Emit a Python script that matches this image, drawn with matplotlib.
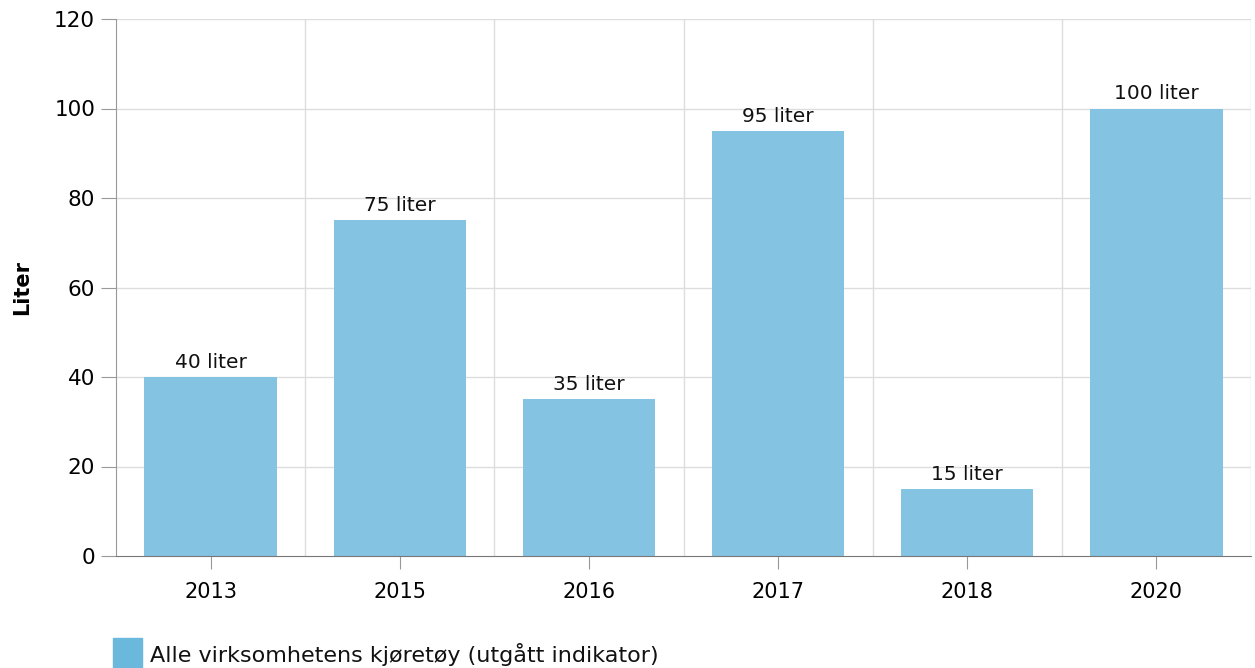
import matplotlib.pyplot as plt
from matplotlib.patches import Rectangle

years = ['2013', '2015', '2016', '2017', '2018', '2020']
values = [40, 75, 35, 95, 15, 100]
labels = ['40 liter', '75 liter', '35 liter', '95 liter', '15 liter', '100 liter']
series_name = 'Alle virksomhetens kjøretøy (utgått indikator)'

plt.rcParams['font.family'] = ['DejaVu Sans']

W, H = 1255, 668
fig = plt.figure(figsize=(W / 100, H / 100), dpi=100)
ax = fig.add_axes([116 / W, 1 - 556 / H, (1251 - 116) / W, (556 - 19) / H])

x = list(range(len(years)))
bar_color = '#85c3e2'
ax.bar(x, values, width=0.7, color=bar_color, zorder=2)
for xi, v, lab in zip(x, values, labels):
    ax.text(xi, v + 1.2, lab, ha='center', va='bottom', fontsize=14.5, color='#111111')

ax.set_xlim(-0.5, len(years) - 0.5)
ax.set_ylim(0, 120)
ax.set_yticks(range(0, 121, 20))
ax.set_xticks(x)
ax.set_xticklabels(years)

# category boundaries as vertical grid lines
for b in range(1, len(years) + 1):
    ax.axvline(b - 0.5, color='#dddddd', lw=1, zorder=0)
for yv in range(20, 121, 20):
    ax.axhline(yv, color='#dddddd', lw=1, zorder=0)

for s in ['top', 'right']:
    ax.spines[s].set_visible(False)
ax.spines['left'].set_color('#999999')
ax.spines['bottom'].set_color('#777777')
ax.tick_params(axis='y', length=11, color='#999999', labelsize=15.5, pad=4)
ax.tick_params(axis='x', length=9, color='#999999', labelsize=15, pad=10)

ax.set_ylabel('Liter', fontsize=15, fontweight='bold')
ax.yaxis.set_label_coords(-84 / (1251 - 116), 0.5)

# legend
fig.patches.append(Rectangle((113 / W, 0), 29 / W, 30 / H, transform=fig.transFigure,
                             color='#6bb8dd'))
fig.text(150 / W, 1 - 655 / H, series_name, fontsize=16, va='center', ha='left',
         color='#111111')

fig.savefig('out.png', dpi=100)
